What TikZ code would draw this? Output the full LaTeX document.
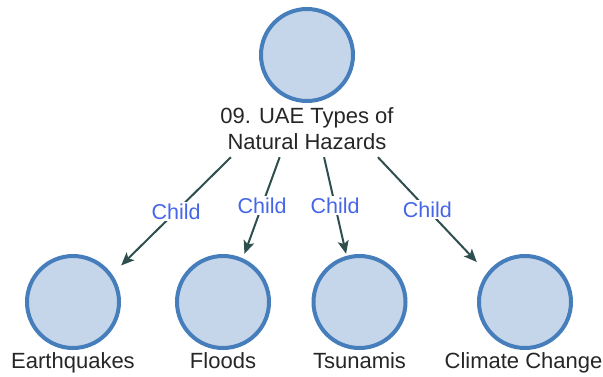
\documentclass[tikz,border=0pt]{standalone}
\usepackage{fontspec}
\setmainfont{Liberation Sans}
\usetikzlibrary{arrows.meta}
\definecolor{bubblefill}{RGB}{197,214,234}
\definecolor{bubbleline}{RGB}{70,126,188}
\definecolor{linkcol}{RGB}{47,79,79}
\definecolor{childblue}{RGB}{70,102,232}
\tikzset{
  hitbox/.style={rectangle, draw=none, inner sep=0pt, minimum width=96pt},
  bubble/.style={circle, draw=bubbleline, fill=bubblefill, line width=4pt,
                 minimum size=92pt, inner sep=0pt},
  caption/.style={font=\fontsize{22}{26}\selectfont, text=black!85,
                  align=center, inner sep=0pt},
  link/.style={draw=linkcol, line width=2pt,
               -{Stealth[length=13pt, width=11pt, inset=3pt]}},
  relname/.style={font=\fontsize{21.5}{26}\selectfont, text=childblue,
                  fill=white, inner sep=1.5pt}
}
\begin{document}
\begin{tikzpicture}[x=1pt, y=-1pt]
  \useasboundingbox (0,0) rectangle (603,376);

  % root topic: circle with its two-line caption underneath
  \node[hitbox, minimum width=172pt, minimum height=150pt] (root) at (307,82) {};
  \node[bubble] (rootc) at (307,55) {};
  \node[caption, anchor=base] (rootl) at (307,149) {09. UAE Types of\\Natural Hazards};

  % child topics
  \node[hitbox, minimum height=118pt] (eq) at (73,313) {};
  \node[bubble] (eqc) at (73,302) {};
  \node[caption, anchor=base] (eql) at (73,368) {Earthquakes};

  \node[hitbox, minimum height=118pt] (fl) at (223,313) {};
  \node[bubble] (flc) at (223,302) {};
  \node[caption, anchor=base] (fll) at (223,368) {Floods};

  \node[hitbox, minimum height=118pt] (ts) at (359.5,313) {};
  \node[bubble] (tsc) at (359.5,302) {};
  \node[caption, anchor=base] (tsl) at (359.5,368) {Tsunamis};

  \node[hitbox, minimum height=118pt] (cc) at (525,313) {};
  \node[bubble] (ccc) at (525,302) {};
  \node[caption, anchor=base] (ccl) at (523.5,368) {Climate Change};

  % parent-child links
  \draw[link] (root) -- node[relname] {Child} (eq);
  \draw[link] (root) -- node[relname] {Child} (fl);
  \draw[link] (root) -- node[relname] {Child} (ts);
  \draw[link] (root) -- node[relname] {Child} (cc);
\end{tikzpicture}
\end{document}
